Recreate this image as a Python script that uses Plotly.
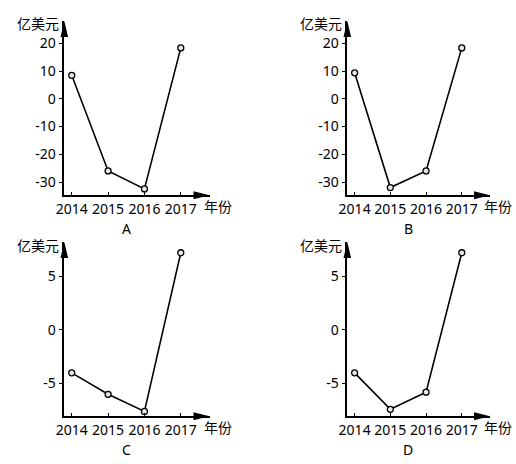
import plotly.graph_objects as go

# data
years = [2014, 2015, 2016, 2017]
values_a = [8.5, -26.0, -32.5, 18.4]
values_b = [9.4, -32.0, -26.0, 18.4]
values_c = [-4.0, -6.0, -7.6, 7.2]
values_d = [-4.0, -7.4, -5.8, 7.2]
panel_names = ["A", "B", "C", "D"]
ticks_big = [-30, -20, -10, 0, 10, 20]
ticks_small = [-5, 0, 5]

W, H = 516, 464
FONT = "Noto Sans, Noto Sans CJK SC"

# (values, y ticks, y range, x domain px, y domain px (top, bottom))
panels = [
    (values_a, ticks_big, [-34.8, 28.1], (64.3, 209.5), (21.0, 195.3)),
    (values_b, ticks_big, [-34.8, 28.1], (347.3, 490.0), (21.0, 195.3)),
    (values_c, ticks_small, [-8.05, 8.2], (64.3, 209.5), (242.0, 416.3)),
    (values_d, ticks_small, [-8.05, 8.2], (347.3, 490.0), (242.0, 416.3)),
]

fig = go.Figure()
layout = {}
annotations = []
shapes = []

for i, (vals, yticks, yrange, xdom, ydom) in enumerate(panels):
    n = "" if i == 0 else str(i + 1)
    xa, ya = "x" + n, "y" + n

    fig.add_trace(go.Scatter(
        x=years, y=vals, xaxis=xa, yaxis=ya, mode="lines+markers",
        line=dict(color="black", width=1.6),
        marker=dict(symbol="circle", size=6, color="#e6e6e6",
                    line=dict(color="black", width=1.3)),
        cliponaxis=False, showlegend=False, hoverinfo="skip"))

    layout["xaxis" + n] = dict(
        domain=[xdom[0] / W, xdom[1] / W], anchor=ya, automargin=False,
        range=[2013.795, 2017.79], tickvals=years,
        ticktext=[str(y) for y in years],
        showline=True, linecolor="black", linewidth=1.5,
        ticks="inside", ticklen=4, tickwidth=1, tickcolor="black",
        showgrid=False, zeroline=False, fixedrange=True,
        tickfont=dict(family=FONT, size=14, color="black"))
    # plain hyphen minus signs, as in the reference
    layout["yaxis" + n] = dict(
        domain=[(H - ydom[1]) / H, (H - ydom[0]) / H], anchor=xa, automargin=False,
        range=yrange, tickvals=yticks, ticktext=[str(t) for t in yticks],
        showline=True, linecolor="black", linewidth=1.5,
        ticks="outside", ticklen=4, tickwidth=1, tickcolor="black",
        showgrid=False, zeroline=False, fixedrange=True,
        tickfont=dict(family=FONT, size=14, color="black"))

    # arrow heads on the axes
    shapes.append(dict(type="path", xref=xa + " domain", yref=ya + " domain",
                       xsizemode="pixel", ysizemode="pixel",
                       xanchor=1, yanchor=0,
                       path="M-16,4 L0,0 L-16,-4 Z",
                       fillcolor="black", line=dict(width=0)))
    shapes.append(dict(type="path", xref=xa + " domain", yref=ya + " domain",
                       xsizemode="pixel", ysizemode="pixel",
                       xanchor=0, yanchor=1,
                       path="M-3.8,-16 L0,0 L3.8,-16 Z",
                       fillcolor="black", line=dict(width=0)))

    annotations.append(dict(text="亿美元", xref=xa + " domain", yref=ya + " domain",
                            x=0, y=1, xanchor="right", yanchor="middle",
                            xshift=-3, yshift=-3, showarrow=False,
                            font=dict(family=FONT, size=14, color="black")))
    annotations.append(dict(text="年份", xref=xa + " domain", yref=ya + " domain",
                            x=1, y=0, xanchor="left", yanchor="middle",
                            xshift=-8, yshift=-11, showarrow=False,
                            font=dict(family=FONT, size=14, color="black")))
    annotations.append(dict(text=panel_names[i], xref=xa, yref=ya + " domain",
                            x=2015.5, y=0, xanchor="center", yanchor="middle",
                            yshift=-33, showarrow=False,
                            font=dict(family=FONT, size=14, color="black")))

fig.update_layout(
    width=W, height=H, autosize=False,
    margin=dict(l=0, r=0, t=0, b=0),
    plot_bgcolor="white", paper_bgcolor="white",
    annotations=annotations, shapes=shapes, **layout)

# drop the default 8px page margin so the 516x464 figure fills the window
fig.write_html("out.html", config={"displayModeBar": False},
               post_script="document.body.style.margin='0';"
                           "document.body.style.overflow='hidden';")
